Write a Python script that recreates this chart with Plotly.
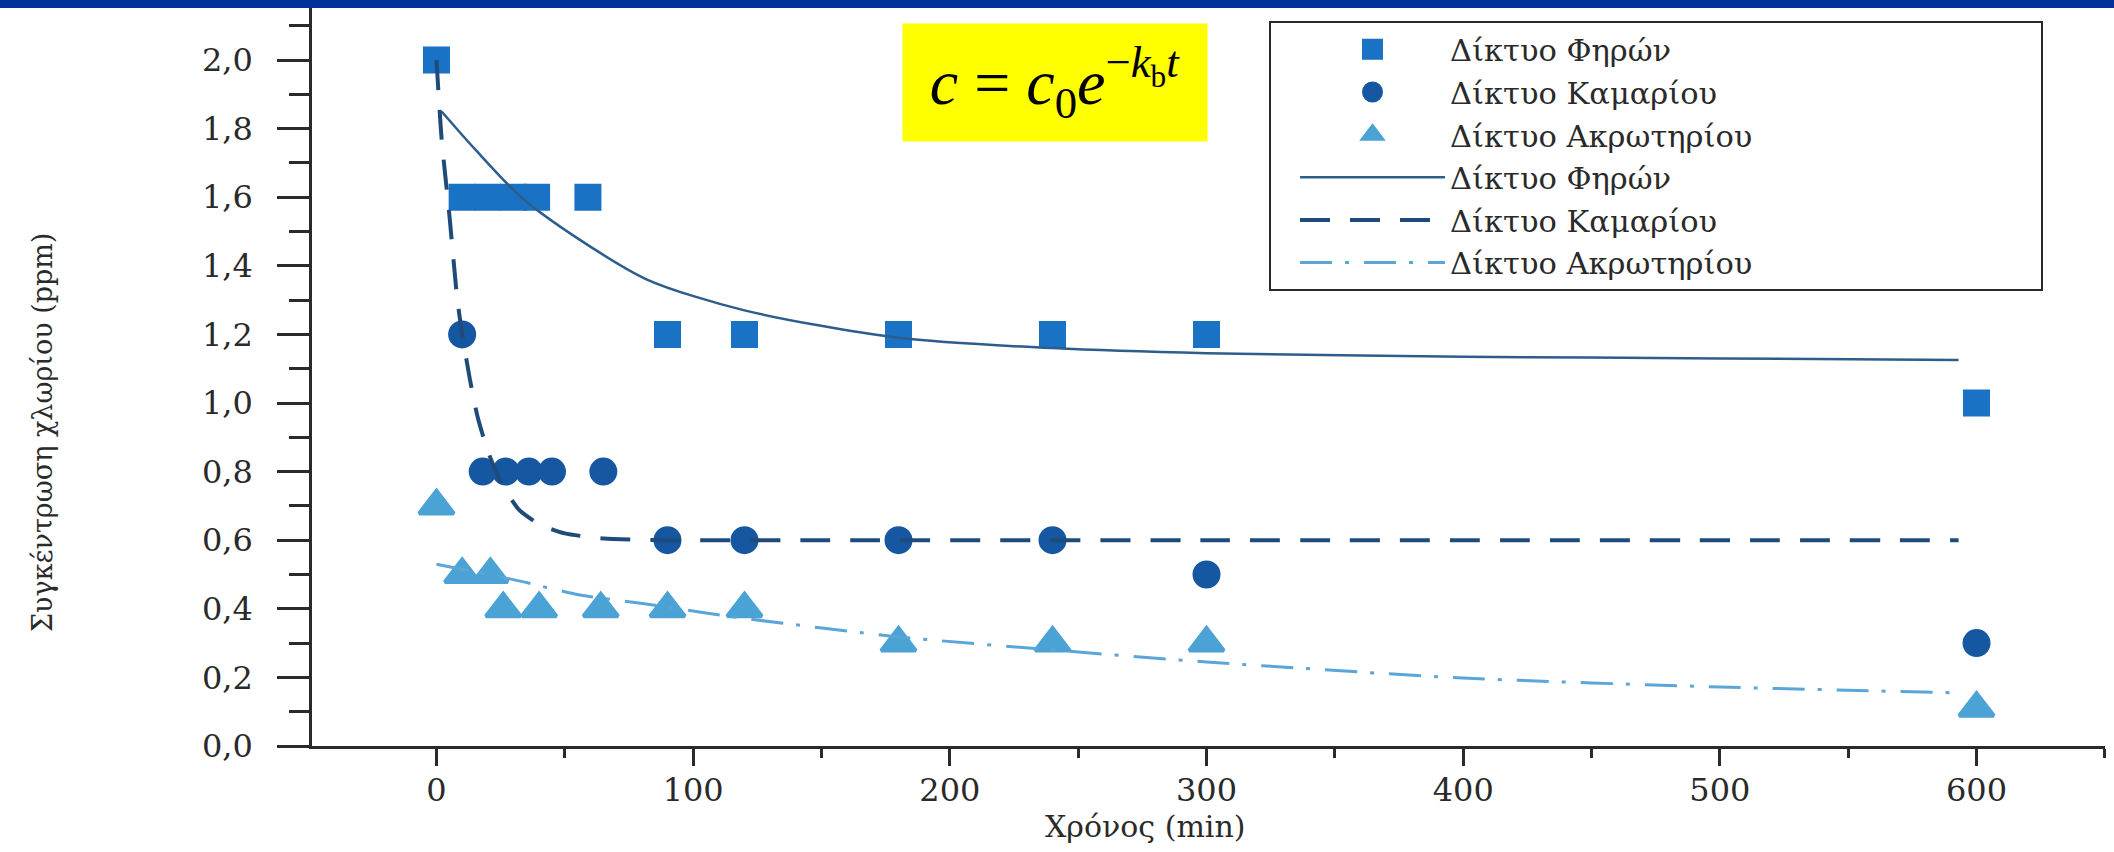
import plotly.graph_objects as go

# ---------------- data ----------------
# measured points: time (min) and chlorine concentration (ppm)
t_firon = [0, 10, 20, 30, 39, 59, 90, 120, 180, 240, 300, 600]
c_firon = [2.0, 1.6, 1.6, 1.6, 1.6, 1.6, 1.2, 1.2, 1.2, 1.2, 1.2, 1.0]

t_kamari = [10, 18, 27, 36, 45, 65, 90, 120, 180, 240, 300, 600]
c_kamari = [1.2, 0.8, 0.8, 0.8, 0.8, 0.8, 0.6, 0.6, 0.6, 0.6, 0.5, 0.3]

t_akrot = [0, 10, 21, 26, 40, 64, 90, 120, 180, 240, 300, 600]
c_akrot = [0.7, 0.5, 0.5, 0.4, 0.4, 0.4, 0.4, 0.4, 0.3, 0.3, 0.3, 0.11]

# fitted curves, points
tf_firon = [2, 15, 33, 55, 82, 120, 180, 240, 300, 400, 500, 593]
cf_firon = [1.85, 1.74, 1.60, 1.48, 1.36, 1.27, 1.19, 1.16, 1.145, 1.135, 1.13, 1.125]

tf_kamari = [0, 2, 5, 8, 10, 13, 16, 20, 25, 32, 40, 50, 65, 90, 150, 300, 593]
cf_kamari = [2.0, 1.77, 1.55, 1.31, 1.2, 1.07, 0.96, 0.86, 0.77, 0.69, 0.647, 0.62,
             0.605, 0.60, 0.60, 0.60, 0.60]

tf_akrot = [0, 30, 56, 81, 103, 120, 180, 240, 300, 400, 500, 593]
cf_akrot = [0.53, 0.485, 0.44, 0.415, 0.39, 0.372, 0.318, 0.28, 0.245, 0.198, 0.172, 0.155]

names = ["Δίκτυο Φηρών", "Δίκτυο Καμαρίου", "Δίκτυο Ακρωτηρίου"]
x_title = "Χρόνος (min)"
y_title = "Συγκέντρωση χλωρίου (ppm)"

# ---------------- layout geometry ----------------
W, H = 2114, 852
ML, MR, MT, MB = 312, 9, 8, 106
PW, PH = W - ML - MR, H - MT - MB
X_RANGE = [-48.5, 650.05]
Y_RANGE = [0, PH / 343.0]

SERIF = "DejaVu Serif"
TXT = "#2a2a2a"
C_SQ, C_CI, C_TR = "#1a72c4", "#1557a0", "#4ba2d4"

fig = go.Figure()

fig.add_trace(go.Scatter(
    x=t_firon, y=c_firon, mode="markers", name=names[0],
    marker=dict(symbol="square", size=22, color=C_SQ, line=dict(width=5, color=C_SQ)),
))
fig.add_trace(go.Scatter(
    x=t_kamari, y=c_kamari, mode="markers", name=names[1],
    marker=dict(symbol="circle", size=23, color=C_CI, line=dict(width=5, color=C_CI)),
))
fig.add_trace(go.Scatter(
    x=t_akrot, y=c_akrot, mode="markers", name=names[2],
    marker=dict(symbol="triangle-up", size=30, color=C_TR, line=dict(width=4, color=C_TR)),
))

fig.add_trace(go.Scatter(
    x=tf_firon, y=cf_firon, mode="lines", name=names[0],
    line=dict(color="#2d5d8c", width=2.5, shape="spline", smoothing=0.8),
))
fig.add_trace(go.Scatter(
    x=tf_kamari, y=cf_kamari, mode="lines", name=names[1],
    line=dict(color="#1f4b7a", width=4, dash="30px,20px", shape="spline", smoothing=0.6),
))
fig.add_trace(go.Scatter(
    x=tf_akrot, y=cf_akrot, mode="lines", name=names[2],
    line=dict(color="#5aa6d8", width=3, dash="32px,13px,4px,15px", shape="spline", smoothing=0.6),
))

axis_common = dict(
    showline=True, linecolor="#2a2a2a", linewidth=2.5,
    showgrid=False, zeroline=False,
    ticks="outside", tickcolor="#2a2a2a", tickwidth=2.5,
    tickfont=dict(family=SERIF, size=32, color=TXT),
)

fig.update_xaxes(
    range=X_RANGE, tick0=0, dtick=100, ticklen=17, ticklabelstandoff=-3,
    minor=dict(dtick=50, tick0=0, ticklen=9, tickwidth=2.5, tickcolor="#2a2a2a",
               ticks="outside", showgrid=False),
    **axis_common,
)
fig.update_yaxes(
    range=Y_RANGE, tick0=0, dtick=0.2, ticklen=32, tickformat=".1f", ticklabelstandoff=18,
    minor=dict(dtick=0.1, tick0=0, ticklen=20, tickwidth=2.5, tickcolor="#2a2a2a",
               ticks="outside", showgrid=False),
    **axis_common,
)

def px_x(p):
    return (p - ML) / PW

def px_y(p):
    return (H - MB - p) / PH

# legend frame (pixel box of the reference legend)
LEG_L, LEG_R, LEG_T, LEG_B = 1270, 2042, 22, 290

fig.update_layout(
    width=W, height=H,
    margin=dict(l=ML, r=MR, t=MT, b=MB, pad=0),
    paper_bgcolor="white", plot_bgcolor="white",
    separators=",.",
    font=dict(family=SERIF, color=TXT),
    legend=dict(
        x=px_x(1295), y=px_y(23), xanchor="left", yanchor="top",
        bgcolor="rgba(0,0,0,0)", borderwidth=0,
        font=dict(family=SERIF, size=30.5, color=TXT),
        itemwidth=145, tracegroupgap=0,
    ),
    shapes=[
        dict(type="rect", xref="paper", yref="paper",
             x0=-ML / PW, x1=1 + MR / PW, y0=1, y1=1 + MT / PH,
             fillcolor="#003399", line=dict(width=0), layer="above"),
        dict(type="rect", xref="paper", yref="paper",
             x0=px_x(LEG_L), x1=px_x(LEG_R), y0=px_y(LEG_B), y1=px_y(LEG_T),
             fillcolor="white", line=dict(width=2, color="#2a2a2a"), layer="above"),
    ],
    annotations=[
        dict(text="<i>c</i> = <i>c</i><sub>0</sub><i>e</i><sup>−<i>k</i><sub>b</sub><i>t</i></sup>",
             xref="paper", yref="paper", x=px_x(1055), y=px_y(82.5),
             xanchor="center", yanchor="middle", showarrow=False,
             width=304, height=117, bgcolor="#ffff00", borderpad=0,
             font=dict(family="Liberation Serif, serif", size=64, color="black")),
        dict(text=y_title, xref="paper", yref="paper", x=px_x(42), y=px_y(433),
             xanchor="center", yanchor="middle", textangle=-90, showarrow=False,
             font=dict(family=SERIF, size=27, color=TXT)),
        dict(text=x_title, xref="paper", yref="paper", x=px_x(1145), y=px_y(826),
             xanchor="center", yanchor="middle", showarrow=False,
             font=dict(family=SERIF, size=30, color=TXT)),
    ],
)

fig.write_html("out.html")
